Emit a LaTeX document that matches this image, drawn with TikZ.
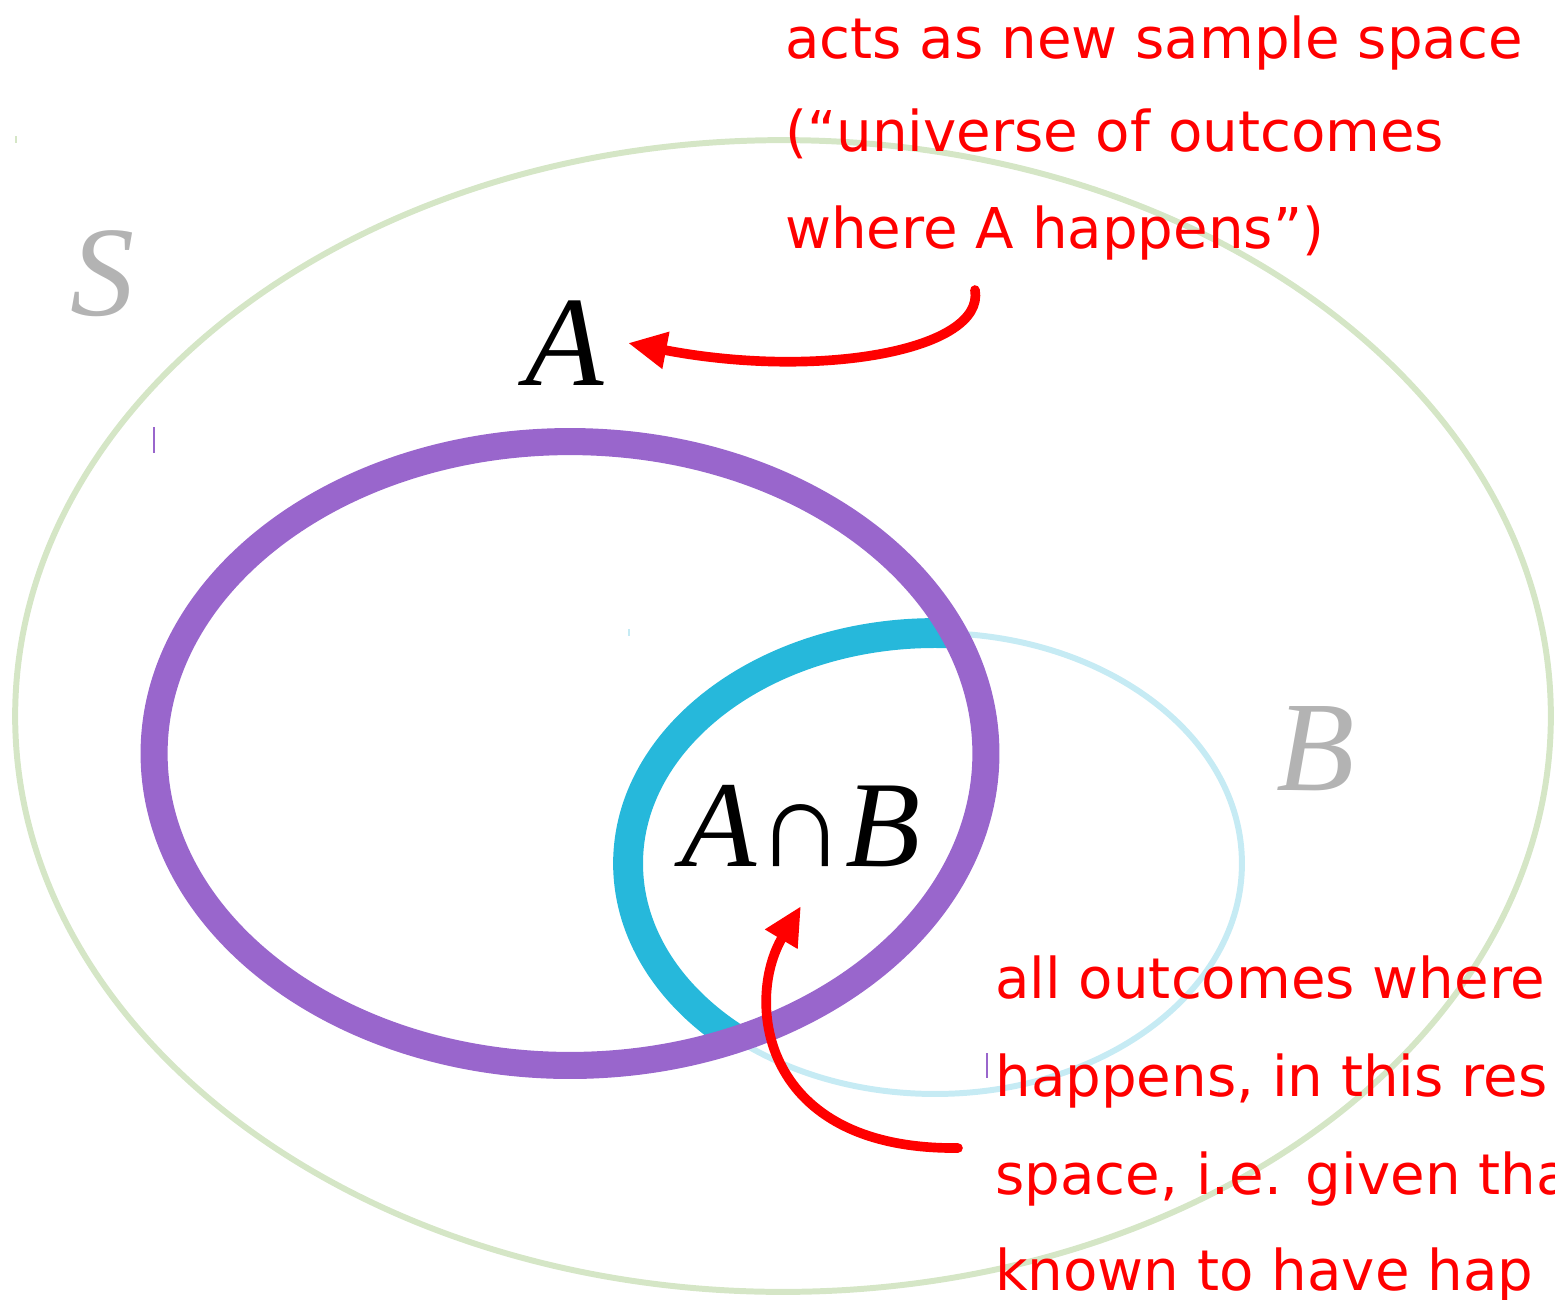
\documentclass[tikz,border=0pt]{standalone}
\usepackage{fontspec}
\setmainfont{Liberation Serif}
\newfontfamily\hand{DejaVu Sans}
\usetikzlibrary{arrows.meta}
\definecolor{sgreen}{HTML}{D5E6C6}
\definecolor{apurple}{HTML}{9966CC}
\definecolor{bcyan}{HTML}{26B8DB}
\definecolor{blight}{HTML}{C6EBF4}
\definecolor{lgray}{HTML}{B3B3B3}
\definecolor{nred}{HTML}{FF0000}
\tikzset{
  note/.style={text=nred, inner sep=0pt, anchor=base west, font=\hand\fontsize{32}{54}\selectfont},
  setlabel/.style={inner sep=0pt, anchor=base, font=\fontsize{73}{80}\selectfont},
  redarrow/.style={draw=nred, line width=5.5pt, line cap=round, -{Triangle[length=22pt,width=20pt]}},
  tick/.style={line width=0.6pt}
}
\begin{document}
\begin{tikzpicture}[x=0.02cm, y=-0.02cm]
\useasboundingbox (0,0) rectangle (1555,1299);
\clip (0,0) rectangle (1555,1299);
% sample space S
\draw[sgreen, line width=3.4pt] (783,716) ellipse [x radius=15.36cm, y radius=11.52cm];
% event B (thin)
\draw[blight, line width=3.4pt] (935,863.5) ellipse [x radius=6.14cm, y radius=4.61cm];
% A intersect B boundary (thick, inside A)
\begin{scope}
  \clip (570,753.5) ellipse [x radius=8.32cm, y radius=6.24cm];
  \draw[bcyan, line width=17pt] (935,863.5) ellipse [x radius=6.14cm, y radius=4.61cm];
\end{scope}
% event A
\draw[apurple, line width=15.4pt] (570,753.5) ellipse [x radius=8.32cm, y radius=6.24cm];
% small stray ticks
\draw[tick, sgreen] (16,136) -- (16,143);
\draw[tick, apurple] (154,427) -- (154,453);
\draw[tick, blight] (629,629) -- (629,636);
\draw[tick, apurple] (987,1053) -- (987,1078);
\draw[tick, blight] (1219,1090) -- (1219,1097);
% labels
\node[setlabel, text=lgray] (S) at (103,315) {\itshape S};
\node[setlabel, text=black] (A) at (565,385) {\itshape A};
\node[setlabel, text=lgray] (B) at (1316,790) {\itshape B};
\node[setlabel, text=black, font=\fontsize{70}{78}\selectfont] (AB) at (801,866) {\itshape A\upshape ∩\itshape B};
% notes
\node[note] (t1) at (785,58) {acts as new sample space};
\node[note] (t2) at (785,151) {(“universe of outcomes};
\node[note] (t3) at (785,248) {where A happens”)};
\node[note] (b1) at (995,998) {all outcomes where};
\node[note] (b2) at (995,1096) {happens, in this res};
\node[note] (b3) at (995,1194) {space, i.e. given tha};
\node[note] (b4) at (995,1290) {known to have hap};
% arrows
\coordinate (a1s) at (975,290);
\coordinate (a1e) at (628,343);
\coordinate (a2s) at (958,1148);
\coordinate (a2e) at (801,906);
\draw[redarrow] (a1s) .. controls (985,350) and (820,380) .. (a1e);
\draw[redarrow] (a2s) .. controls (760,1150) and (745,1000) .. (a2e);
\end{tikzpicture}
\end{document}
